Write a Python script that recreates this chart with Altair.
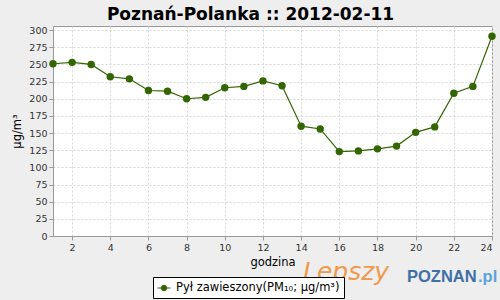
import altair as alt
import pandas as pd

hours = list(range(1, 25))
pm10 = [251, 253, 250, 232, 229, 212, 211, 200, 202, 216, 218, 226,
        219, 160, 156, 123, 124, 127, 131, 151, 159, 208, 218, 291]
series_name = "Pył zawieszony(PM₁₀; µg/m³)"
title_text = "Poznań-Polanka :: 2012-02-11"
x_ticks = list(range(2, 25, 2))
y_ticks = list(range(0, 301, 25))

df = pd.DataFrame({"godzina": hours, "pm": pm10, "series": [series_name] * len(hours)})

GREEN = "#336600"
FONT = "DejaVu Sans"

color = alt.Color(
    "series:N",
    scale=alt.Scale(domain=[series_name], range=[GREEN]),
    legend=alt.Legend(
        title=None,
        orient="none",
        legendX=100,
        legendY=251,
        padding=4,
        strokeColor="black",
        fillColor="white",
        labelFont=FONT,
        labelFontSize=11.5,
        labelColor="black",
        labelOffset=5,
        labelLimit=400,
        symbolType="M-1,0H1M-0.42,0a0.42,0.42 0 1,0 0.84,0a0.42,0.42 0 1,0 -0.84,0Z",
        symbolSize=169,
        symbolStrokeWidth=1,
        symbolFillColor=GREEN,
        symbolStrokeColor=GREEN,
    ),
)

x = alt.X(
    "godzina:Q",
    scale=alt.Scale(domain=[1, 24], nice=False, zero=False),
    axis=alt.Axis(values=x_ticks, title="godzina", format="d"),
)
y = alt.Y(
    "pm:Q",
    scale=alt.Scale(domain=[0, 306], nice=False),
    axis=alt.Axis(values=y_ticks, title="µg/m³"),
)

base = alt.Chart(df)
line = base.mark_line(strokeWidth=1.2, clip=False).encode(x=x, y=y, color=color)
pts = base.mark_point(filled=True, size=55, opacity=1, clip=False).encode(x=x, y=y, color=color)

lepszy = alt.Chart(pd.DataFrame({"t": ["Lepszy"]})).mark_text(
    font=FONT, fontSize=25, fontStyle="italic", color="#EE9A4D", align="left", baseline="alphabetic"
).encode(text="t:N", x=alt.value(250), y=alt.value(254))
poznan = alt.Chart(pd.DataFrame({"t": ["POZNAN"]})).mark_text(
    font="Liberation Sans", fontSize=16.5, fontWeight="bold", color="#3E6FA6", align="left", baseline="alphabetic"
).encode(text="t:N", x=alt.value(354), y=alt.value(256))
pl = alt.Chart(pd.DataFrame({"t": [".pl"]})).mark_text(
    font="Liberation Sans", fontSize=16.5, fontWeight="bold", color="#5BA3DB", align="left", baseline="alphabetic"
).encode(text="t:N", x=alt.value(425), y=alt.value(256))

chart = alt.layer(line, pts, lepszy, poznan, pl).properties(
    width=439,
    height=210,
    autosize=alt.AutoSizeParams(type="none"),
    padding={"left": 53, "top": 26, "right": 8, "bottom": 64},
    background="#EEEEEE",
    title=alt.Title(
        title_text,
        font=FONT,
        fontSize=17,
        fontWeight="bold",
        color="black",
        anchor="middle",
        dx=-22,
        dy=5,
        offset=6,
    ),
).configure_view(
    stroke="#999999", strokeWidth=1, fill="white"
).configure_axis(
    labelFont=FONT,
    labelFontSize=9.5,
    labelColor="#333333",
    titleFont=FONT,
    titleFontSize=11.5,
    titleFontWeight="normal",
    titleColor="black",
    domainColor="#999999",
    tickColor="#999999",
    tickSize=4,
    labelPadding=2,
    gridColor="#D6D6D6",
    gridDash=[2, 2],
    gridWidth=1,
).configure_axisX(
    titlePadding=5,
).configure_axisY(
    titlePadding=6,
)

chart.save("out.html", embed_options={"renderer": "svg", "actions": False})
